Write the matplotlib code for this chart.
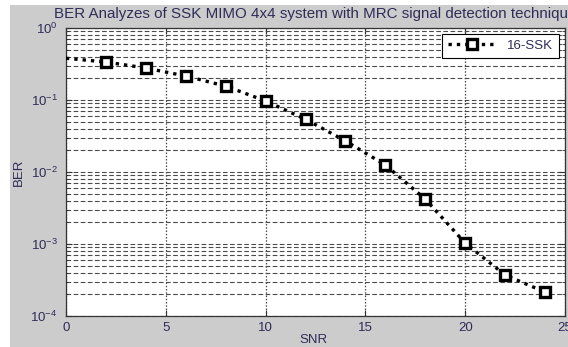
import matplotlib.pyplot as plt
from matplotlib.patches import Rectangle
from matplotlib.ticker import LogLocator, FixedLocator

plt.rcParams['font.family'] = ['Liberation Sans', 'DejaVu Sans']
plt.rcParams['mathtext.fontset'] = 'custom'
plt.rcParams['mathtext.rm'] = 'Liberation Sans'
plt.rcParams['mathtext.it'] = 'Liberation Sans'

# BER curve for 16-SSK, 4x4 MIMO with MRC detection
snr = [0, 2, 4, 6, 8, 10, 12, 14, 16, 18, 20, 22, 24]
ber = [0.38, 0.337, 0.278, 0.215, 0.156, 0.097, 0.054, 0.027, 0.0125,
       0.0042, 0.00103, 0.00037, 0.000215]

x_ticks = [0, 5, 10, 15, 20, 25]
y_ticks = [1e-4, 1e-3, 1e-2, 1e-1, 1e0]
y_tick_labels = ['$10^{-4}$', '$10^{-3}$', '$10^{-2}$', '$10^{-1}$', '$10^{0}$']

txt_color = '#2f2c58'
grid_color = '#4a4a4a'

W, H = 568, 347
fig = plt.figure(figsize=(W / 100, H / 100), dpi=100, facecolor='white')

# grey figure panel
fig.patches.append(Rectangle((10 / W, 0), 1 - 10 / W, 1 - 5 / H,
                             transform=fig.transFigure, facecolor='#cccccc',
                             edgecolor='none', zorder=-10))

ax = fig.add_axes([66 / W, (H - 316) / H, 499 / W, 288 / H])
ax.set_zorder(2)
ax.set_facecolor('white')

ax.plot(snr, ber, color='black', linestyle=(0, (1, 1.5)), linewidth=2.4,
        marker='s', markersize=6.8, markeredgewidth=2.4,
        markerfacecolor='white', markeredgecolor='black',
        markevery=slice(1, None), label='16-SSK', zorder=3)

ax.set_yscale('log')
ax.set_xlim(0, 25)
ax.set_ylim(1e-4, 1)
ax.xaxis.set_major_locator(FixedLocator(x_ticks))
ax.set_yticks(y_ticks)
ax.set_yticklabels(y_tick_labels)
ax.yaxis.set_minor_locator(LogLocator(base=10, subs=range(2, 10)))
ax.yaxis.set_minor_formatter(plt.NullFormatter())

ax.tick_params(which='both', direction='in', top=True, right=True,
               labelsize=9.5, labelcolor=txt_color, color='#333333')
ax.tick_params(which='major', length=4, width=0.8)
ax.tick_params(which='minor', length=2, width=0.6)
ax.tick_params(axis='x', pad=4)
ax.tick_params(axis='y', pad=6)

# horizontal grid dashed, vertical grid dotted
ax.yaxis.grid(True, which='both', color=grid_color, linestyle=(0, (4.2, 2.2)),
              linewidth=0.8)
ax.xaxis.grid(True, which='major', color=grid_color, linestyle=(0, (1.2, 1.4)),
              linewidth=0.9)

for sp in ax.spines.values():
    sp.set_color('#333333')
    sp.set_linewidth(0.9)

fig.text(315 / W, 1 - 14 / H,
         'BER Analyzes of SSK MIMO 4x4 system with MRC signal detection technique',
         ha='center', va='center', fontsize=10.9, color=txt_color)
fig.text(313 / W, 1 - 340 / H, 'SNR', ha='center', va='center',
         fontsize=9.5, color=txt_color)
fig.text(19 / W, 1 - 172 / H, 'BER', ha='center', va='center', rotation=90,
         fontsize=9.5, color=txt_color)

leg = ax.legend(loc='upper right', fontsize=9.5, frameon=True, fancybox=False,
                borderpad=0.45, handlelength=3.6, handletextpad=0.9,
                borderaxespad=0.45, labelcolor=txt_color)
leg.get_frame().set_edgecolor('black')
leg.get_frame().set_linewidth(0.8)
leg.get_frame().set_alpha(1)

fig.savefig('out.png', dpi=100, facecolor='white')
